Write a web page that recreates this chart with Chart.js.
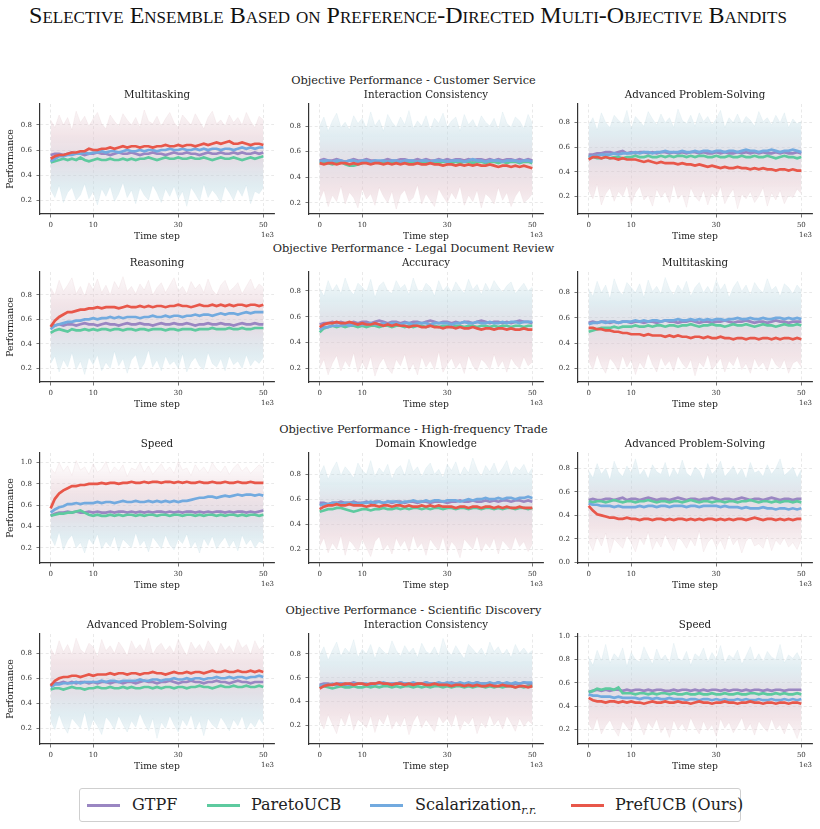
<!DOCTYPE html>
<html><head><meta charset="utf-8">
<script src="https://cdn.jsdelivr.net/npm/chart.js@4.4.1/dist/chart.umd.min.js"></script>
<style>
html,body{margin:0;padding:0;background:#fff;}
body{width:820px;height:829px;position:relative;overflow:hidden;font-family:'DejaVu Serif',serif;}
#title{position:absolute;left:0;top:2px;width:816px;text-align:center;font-family:'Liberation Serif','Times New Roman',serif;font-variant:small-caps;font-size:24px;line-height:26px;color:#111;white-space:nowrap;}
.rowhead{position:absolute;left:0;width:827px;text-align:center;font-size:11.3px;line-height:14px;color:#222;white-space:nowrap;}
canvas{position:absolute;}
#legend{position:absolute;left:79px;top:788px;width:662px;height:34px;box-sizing:border-box;border:1px solid #cfcfcf;border-radius:3px;background:#fff;}
#legend .ln{position:absolute;top:15px;width:33px;height:2.5px;}
#legend .tx{position:absolute;top:6px;font-size:16px;line-height:20px;color:#222;white-space:nowrap;}
#legend .sub{font-style:italic;font-size:11px;position:relative;top:4px;}
</style></head>
<body>
<div id="title"></div>
<div id="legend"></div>
<script>
// ---------------- data ----------------
const figureTitle = 'Selective Ensemble Based on Preference-Directed Multi-Objective Bandits';
const rowTitles = ['Objective Performance - Customer Service','Objective Performance - Legal Document Review','Objective Performance - High-frequency Trade','Objective Performance - Scientific Discovery'];
const panelTitles = ['Multitasking','Interaction Consistency','Advanced Problem-Solving','Reasoning','Accuracy','Multitasking','Speed','Domain Knowledge','Advanced Problem-Solving','Advanced Problem-Solving','Interaction Consistency','Speed'];
const seriesNames = ['GTPF','ParetoUCB','Scalarization','PrefUCB (Ours)'];
const xTicks = [0,10,30,50];          // time step, x 1e3
const yTicks = [[.2,.4,.6,.8],[.2,.4,.6,.8],[.2,.4,.6,.8],[.2,.4,.6,.8],[.2,.4,.6,.8],[.2,.4,.6,.8],[.2,.4,.6,.8,1.0],[.2,.4,.6,.8],[0,.2,.4,.6,.8],[.2,.4,.6,.8],[.2,.4,.6,.8],[.2,.4,.6,.8,1.0]];
const yMin = [0.088,0.112,0.056,0.088,0.094,0.091,0.056,0.088,-0.005,0.074,0.043,0.073];
const yMax = [0.968,0.972,0.952,0.988,0.947,0.964,1.091,0.971,0.930,0.954,0.968,1.020];

const gtpf = [
[.56,.57,.57,.56,.57,.58,.57,.57,.56,.57,.57,.58,.57,.57,.56,.57,.58,.57,.57,.58,.57,.56,.57,.57,.58,.57,.57,.56,.57,.58,.57,.57,.58,.57,.57,.56,.57,.58,.57,.57,.58,.57,.57,.58,.57,.58,.57,.57,.58,.57,.58],
[.53,.54,.53,.53,.54,.53,.52,.53,.54,.53,.53,.54,.53,.53,.52,.53,.54,.53,.53,.54,.54,.53,.53,.54,.53,.54,.53,.53,.54,.53,.54,.53,.54,.54,.53,.54,.53,.54,.54,.53,.54,.53,.54,.53,.54,.54,.53,.54,.53,.54,.53],
[.54,.54,.55,.55,.56,.56,.55,.56,.57,.55,.56,.55,.56,.56,.55,.56,.55,.56,.56,.55,.56,.55,.56,.55,.56,.56,.55,.56,.55,.55,.56,.55,.56,.55,.55,.56,.55,.56,.55,.56,.55,.56,.55,.55,.56,.55,.56,.55,.55,.56,.55],
[.55,.55,.56,.55,.56,.56,.55,.56,.57,.56,.56,.55,.56,.57,.56,.56,.55,.56,.57,.56,.56,.57,.56,.56,.55,.56,.57,.56,.56,.57,.56,.56,.57,.56,.55,.56,.56,.57,.56,.56,.57,.56,.56,.55,.56,.57,.56,.56,.57,.56,.56],
[.54,.55,.55,.56,.55,.56,.55,.55,.56,.55,.56,.56,.55,.56,.57,.56,.55,.56,.56,.55,.56,.55,.56,.56,.55,.56,.57,.56,.55,.56,.56,.55,.56,.55,.56,.56,.55,.56,.57,.56,.55,.56,.56,.55,.56,.55,.56,.57,.56,.56,.55],
[.56,.57,.56,.57,.57,.56,.57,.56,.57,.57,.56,.57,.57,.56,.57,.57,.56,.57,.58,.57,.57,.56,.57,.57,.58,.57,.56,.57,.57,.56,.57,.57,.58,.57,.56,.57,.57,.58,.57,.56,.57,.57,.56,.57,.58,.57,.57,.56,.57,.57,.57],
[.50,.52,.53,.53,.54,.53,.54,.53,.53,.54,.53,.54,.53,.53,.54,.53,.54,.54,.53,.54,.53,.54,.53,.54,.53,.54,.54,.53,.54,.53,.54,.53,.54,.54,.53,.54,.53,.54,.53,.54,.54,.53,.54,.53,.54,.54,.53,.54,.53,.54,.55],
[.57,.57,.56,.57,.57,.58,.57,.57,.58,.57,.57,.58,.57,.58,.58,.57,.58,.57,.58,.58,.57,.58,.58,.57,.58,.58,.57,.58,.58,.58,.57,.58,.58,.59,.58,.58,.59,.58,.58,.59,.58,.59,.58,.59,.59,.58,.59,.59,.58,.59,.58],
[.53,.54,.53,.53,.54,.54,.53,.54,.55,.53,.54,.54,.53,.54,.55,.54,.53,.54,.54,.53,.54,.55,.54,.53,.54,.54,.53,.54,.54,.55,.54,.53,.54,.54,.53,.54,.55,.54,.53,.54,.54,.53,.54,.55,.54,.53,.54,.54,.53,.54,.54],
[.55,.56,.56,.57,.56,.57,.56,.57,.57,.56,.57,.56,.57,.57,.56,.57,.57,.56,.57,.57,.56,.57,.58,.57,.57,.56,.57,.57,.58,.57,.56,.57,.57,.58,.57,.57,.56,.57,.57,.58,.57,.57,.56,.57,.58,.57,.57,.56,.57,.57,.57],
[.54,.55,.55,.54,.55,.55,.54,.55,.56,.55,.55,.54,.55,.55,.56,.55,.54,.55,.55,.56,.55,.55,.54,.55,.55,.56,.55,.55,.54,.55,.55,.56,.55,.55,.54,.55,.55,.56,.55,.55,.54,.55,.56,.55,.55,.54,.55,.55,.56,.55,.55],
[.52,.53,.54,.53,.54,.53,.54,.54,.53,.54,.53,.54,.54,.53,.54,.53,.54,.54,.53,.53,.54,.53,.54,.54,.53,.54,.53,.54,.53,.54,.54,.53,.54,.53,.54,.54,.53,.54,.53,.54,.54,.53,.54,.53,.54,.54,.53,.54,.54,.54,.54]
];
const paretoUCB = [
[.50,.51,.52,.53,.52,.53,.52,.54,.52,.51,.52,.53,.52,.52,.53,.52,.52,.53,.52,.53,.52,.53,.53,.54,.53,.52,.53,.54,.53,.53,.54,.53,.53,.54,.53,.53,.54,.53,.52,.53,.54,.53,.53,.54,.53,.52,.53,.54,.53,.54,.55],
[.51,.52,.51,.50,.51,.52,.50,.49,.49,.50,.51,.52,.51,.52,.51,.52,.52,.51,.52,.51,.52,.52,.51,.52,.52,.51,.52,.52,.51,.52,.52,.51,.52,.51,.52,.52,.51,.52,.52,.51,.52,.52,.51,.52,.51,.52,.52,.51,.52,.52,.51],
[.52,.52,.51,.51,.52,.51,.52,.52,.51,.52,.52,.53,.52,.52,.53,.52,.52,.53,.52,.53,.52,.53,.53,.52,.53,.52,.53,.53,.52,.52,.53,.52,.52,.53,.52,.52,.53,.52,.52,.53,.52,.52,.53,.52,.51,.52,.53,.52,.52,.51,.52],
[.49,.51,.52,.51,.50,.52,.51,.51,.52,.51,.52,.51,.52,.52,.51,.52,.52,.51,.52,.52,.51,.52,.52,.51,.52,.52,.52,.51,.52,.52,.51,.52,.52,.52,.51,.52,.52,.52,.53,.52,.52,.52,.53,.52,.52,.53,.52,.52,.53,.53,.53],
[.48,.51,.52,.53,.52,.53,.52,.53,.53,.52,.53,.52,.53,.53,.52,.53,.53,.52,.53,.53,.52,.53,.52,.53,.53,.52,.53,.53,.52,.53,.53,.52,.53,.53,.52,.53,.53,.52,.53,.53,.52,.53,.52,.53,.53,.52,.53,.53,.52,.53,.53],
[.49,.50,.51,.52,.52,.52,.53,.52,.53,.53,.53,.54,.53,.53,.54,.53,.54,.54,.53,.54,.54,.53,.54,.54,.55,.54,.53,.54,.54,.55,.54,.54,.53,.54,.55,.54,.54,.55,.54,.53,.54,.55,.54,.54,.53,.54,.55,.54,.54,.55,.54],
[.50,.51,.52,.52,.53,.53,.54,.55,.53,.51,.50,.51,.50,.50,.51,.50,.51,.50,.51,.51,.50,.51,.50,.51,.51,.50,.51,.51,.50,.51,.51,.50,.51,.51,.50,.51,.50,.51,.51,.50,.51,.50,.51,.51,.50,.51,.50,.51,.51,.50,.51],
[.50,.51,.52,.52,.53,.53,.52,.51,.50,.51,.52,.52,.51,.52,.52,.53,.52,.52,.53,.52,.53,.52,.53,.53,.52,.53,.52,.53,.53,.52,.53,.53,.52,.53,.53,.52,.53,.53,.52,.53,.53,.52,.53,.52,.53,.53,.52,.53,.53,.52,.53],
[.52,.51,.52,.52,.51,.52,.53,.52,.51,.52,.52,.51,.52,.52,.53,.52,.51,.52,.52,.51,.52,.52,.51,.52,.53,.52,.51,.52,.52,.51,.52,.52,.51,.52,.52,.51,.52,.52,.53,.52,.51,.52,.52,.51,.52,.51,.52,.52,.51,.52,.51],
[.51,.52,.52,.51,.52,.53,.52,.52,.51,.52,.52,.53,.52,.52,.53,.52,.52,.53,.52,.53,.52,.52,.53,.53,.52,.53,.52,.53,.53,.52,.53,.53,.52,.53,.53,.54,.53,.53,.52,.53,.54,.53,.53,.54,.53,.53,.54,.53,.53,.54,.53],
[.52,.53,.52,.51,.52,.53,.52,.52,.53,.52,.52,.53,.52,.53,.52,.53,.53,.52,.53,.52,.53,.53,.52,.53,.52,.53,.52,.53,.53,.52,.53,.52,.53,.53,.52,.53,.52,.53,.53,.52,.53,.52,.53,.52,.53,.53,.52,.53,.52,.53,.53],
[.52,.53,.55,.54,.55,.55,.54,.56,.51,.51,.51,.50,.51,.51,.50,.51,.50,.51,.51,.50,.51,.50,.50,.51,.50,.50,.51,.50,.50,.51,.50,.50,.51,.50,.50,.51,.50,.50,.51,.51,.50,.51,.50,.50,.51,.50,.51,.50,.50,.51,.50]
];
const scalarization = [
[.51,.53,.55,.55,.56,.56,.57,.57,.58,.57,.58,.58,.59,.58,.59,.59,.58,.59,.60,.59,.59,.60,.59,.60,.60,.59,.60,.60,.61,.60,.60,.61,.60,.60,.61,.60,.61,.60,.61,.61,.60,.61,.61,.60,.61,.62,.61,.62,.61,.62,.62],
[.52,.53,.53,.52,.53,.53,.52,.53,.53,.52,.53,.53,.52,.53,.53,.53,.52,.53,.53,.52,.53,.53,.53,.52,.53,.53,.52,.53,.53,.53,.52,.53,.53,.53,.52,.53,.54,.53,.53,.52,.53,.53,.53,.52,.53,.53,.53,.52,.53,.53,.52],
[.52,.53,.53,.54,.54,.54,.55,.54,.55,.55,.55,.56,.55,.56,.56,.55,.56,.56,.57,.56,.56,.56,.57,.56,.56,.57,.56,.57,.57,.56,.57,.57,.56,.57,.57,.56,.57,.58,.57,.57,.56,.57,.57,.58,.57,.56,.57,.57,.58,.57,.56],
[.52,.55,.56,.57,.58,.58,.59,.59,.60,.60,.61,.60,.61,.61,.62,.61,.62,.61,.62,.62,.62,.61,.62,.62,.63,.62,.62,.63,.62,.63,.63,.62,.63,.63,.64,.63,.64,.64,.63,.64,.65,.64,.65,.65,.64,.65,.66,.65,.66,.66,.66],
[.50,.52,.52,.53,.53,.53,.54,.53,.54,.54,.54,.54,.55,.54,.54,.55,.54,.55,.55,.54,.55,.55,.54,.55,.55,.55,.54,.55,.55,.55,.55,.54,.55,.55,.56,.55,.55,.56,.55,.55,.56,.55,.55,.56,.55,.56,.56,.55,.56,.56,.56],
[.55,.56,.56,.57,.56,.57,.57,.56,.57,.57,.57,.58,.57,.58,.57,.58,.58,.57,.58,.58,.58,.59,.58,.58,.59,.58,.59,.58,.59,.58,.59,.59,.58,.59,.59,.60,.59,.59,.60,.59,.59,.60,.59,.59,.60,.60,.59,.60,.59,.60,.59],
[.53,.56,.58,.59,.61,.61,.62,.61,.62,.62,.62,.63,.62,.63,.63,.62,.63,.64,.63,.63,.64,.63,.63,.64,.63,.64,.63,.64,.63,.64,.63,.64,.64,.65,.66,.67,.67,.68,.68,.67,.68,.69,.68,.69,.70,.69,.70,.70,.69,.70,.69],
[.55,.56,.56,.57,.57,.56,.57,.57,.57,.56,.57,.57,.58,.57,.58,.57,.58,.58,.58,.57,.58,.58,.59,.58,.58,.59,.58,.59,.59,.58,.59,.59,.59,.58,.59,.60,.59,.60,.60,.61,.60,.60,.61,.60,.61,.61,.60,.61,.61,.62,.61],
[.50,.49,.49,.48,.48,.48,.47,.48,.47,.47,.47,.47,.48,.47,.48,.48,.47,.48,.48,.47,.48,.48,.48,.47,.48,.48,.47,.48,.48,.48,.48,.47,.48,.47,.47,.47,.46,.47,.46,.46,.46,.47,.46,.46,.45,.46,.46,.45,.46,.45,.46],
[.53,.55,.55,.56,.56,.56,.57,.56,.57,.57,.57,.57,.58,.57,.58,.58,.57,.58,.58,.58,.58,.59,.58,.58,.59,.59,.58,.59,.59,.60,.59,.59,.60,.59,.60,.60,.59,.60,.60,.61,.60,.60,.61,.60,.61,.61,.60,.61,.61,.62,.61],
[.53,.54,.54,.55,.54,.55,.55,.54,.55,.55,.55,.55,.54,.55,.55,.56,.55,.55,.55,.56,.55,.55,.56,.55,.55,.56,.55,.55,.56,.55,.56,.55,.55,.56,.55,.56,.55,.56,.55,.55,.56,.55,.56,.55,.56,.55,.56,.55,.56,.56,.56],
[.50,.49,.49,.48,.48,.48,.47,.48,.47,.47,.47,.47,.46,.47,.47,.46,.47,.46,.46,.47,.46,.46,.46,.45,.46,.46,.45,.46,.46,.45,.46,.45,.46,.45,.45,.46,.45,.46,.45,.45,.46,.45,.45,.46,.45,.45,.46,.45,.46,.45,.46]
];
const prefUCB = [
[.53,.55,.56,.56,.57,.58,.58,.59,.59,.61,.60,.60,.61,.61,.62,.61,.62,.63,.62,.63,.63,.62,.63,.63,.62,.63,.63,.64,.63,.63,.64,.63,.64,.64,.63,.64,.65,.64,.65,.66,.65,.66,.67,.65,.65,.66,.65,.64,.65,.65,.64],
[.51,.50,.51,.51,.50,.51,.51,.50,.51,.50,.51,.51,.50,.51,.51,.50,.51,.50,.51,.50,.51,.50,.50,.51,.50,.50,.51,.50,.50,.49,.50,.50,.49,.50,.49,.50,.49,.50,.49,.49,.50,.49,.48,.49,.49,.48,.49,.48,.49,.48,.47],
[.50,.52,.52,.51,.52,.51,.51,.50,.51,.50,.50,.50,.49,.48,.49,.48,.47,.48,.47,.47,.47,.46,.47,.46,.46,.45,.46,.45,.44,.45,.44,.43,.44,.43,.43,.44,.43,.43,.42,.43,.42,.43,.42,.42,.41,.42,.42,.41,.42,.41,.41],
[.54,.59,.62,.64,.66,.66,.67,.68,.68,.69,.69,.70,.69,.70,.70,.70,.69,.70,.71,.70,.70,.71,.70,.71,.70,.71,.71,.70,.71,.71,.72,.71,.71,.70,.71,.72,.71,.71,.72,.71,.72,.71,.72,.71,.72,.72,.71,.72,.72,.71,.72],
[.52,.54,.55,.55,.56,.55,.55,.56,.55,.54,.55,.54,.54,.55,.54,.53,.54,.53,.54,.53,.53,.52,.53,.53,.52,.52,.53,.52,.52,.51,.52,.52,.51,.52,.51,.51,.52,.51,.50,.51,.51,.50,.51,.51,.50,.51,.50,.50,.51,.50,.50],
[.52,.52,.51,.51,.50,.50,.49,.49,.48,.48,.47,.47,.47,.46,.47,.46,.46,.46,.45,.46,.45,.46,.45,.45,.44,.45,.45,.44,.45,.44,.44,.45,.44,.44,.43,.44,.44,.43,.44,.44,.43,.44,.44,.43,.44,.43,.44,.44,.43,.44,.43],
[.57,.66,.71,.74,.76,.78,.78,.79,.79,.80,.80,.80,.81,.80,.81,.81,.80,.81,.81,.82,.81,.81,.82,.81,.82,.82,.81,.82,.82,.81,.82,.81,.82,.81,.81,.82,.81,.81,.82,.81,.81,.82,.81,.81,.82,.81,.81,.82,.81,.81,.81],
[.52,.54,.55,.55,.56,.55,.55,.56,.55,.55,.55,.54,.55,.55,.54,.55,.55,.54,.55,.55,.54,.55,.54,.54,.55,.54,.55,.54,.55,.54,.54,.54,.53,.54,.54,.53,.54,.54,.53,.54,.54,.53,.54,.53,.54,.53,.53,.54,.53,.53,.53],
[.48,.44,.41,.40,.39,.38,.38,.37,.37,.38,.37,.37,.36,.37,.37,.36,.37,.37,.36,.37,.36,.37,.37,.36,.37,.36,.37,.36,.37,.37,.36,.37,.36,.37,.36,.37,.37,.36,.37,.38,.37,.36,.37,.37,.36,.37,.36,.37,.36,.37,.37],
[.54,.58,.60,.61,.61,.62,.62,.61,.62,.63,.62,.63,.63,.63,.64,.63,.64,.64,.63,.64,.64,.63,.64,.64,.65,.64,.64,.63,.64,.65,.64,.64,.65,.64,.65,.65,.64,.65,.66,.65,.65,.66,.65,.65,.66,.65,.65,.66,.65,.66,.65],
[.51,.53,.54,.54,.55,.54,.55,.55,.54,.55,.55,.54,.55,.55,.56,.55,.55,.54,.55,.55,.54,.55,.54,.55,.55,.54,.54,.55,.54,.54,.54,.53,.54,.54,.53,.54,.53,.54,.53,.53,.54,.53,.53,.54,.53,.53,.52,.53,.53,.52,.53],
[.47,.45,.44,.44,.43,.44,.44,.43,.44,.43,.44,.43,.43,.42,.43,.44,.43,.43,.44,.43,.43,.44,.43,.43,.42,.43,.44,.43,.43,.42,.43,.43,.44,.43,.43,.42,.43,.43,.44,.43,.43,.42,.43,.43,.42,.43,.43,.42,.43,.43,.42]
];
// envelope of the faint per-step traces (upper / lower)
const noiseHi = [
[.84,.78,.88,.80,.86,.76,.91,.82,.87,.79,.85,.90,.81,.77,.88,.83,.79,.89,.84,.80,.86,.78,.92,.83,.81,.87,.79,.85,.90,.82,.78,.88,.84,.80,.89,.83,.77,.86,.91,.81,.84,.79,.88,.82,.86,.80,.90,.83,.78,.87,.84],
[.80,.87,.76,.84,.90,.79,.83,.77,.88,.82,.86,.78,.91,.80,.85,.76,.89,.83,.79,.87,.81,.92,.78,.84,.80,.88,.77,.86,.82,.90,.79,.84,.87,.76,.89,.81,.85,.78,.88,.83,.80,.86,.77,.91,.82,.79,.87,.84,.78,.89,.82],
[.78,.84,.74,.88,.80,.76,.86,.82,.79,.90,.75,.85,.81,.77,.89,.83,.78,.87,.80,.84,.76,.91,.82,.79,.86,.77,.88,.81,.85,.78,.83,.90,.76,.84,.80,.87,.79,.85,.82,.77,.89,.81,.84,.78,.86,.80,.88,.76,.83,.79,.81],
[.86,.80,.92,.83,.88,.94,.81,.87,.79,.90,.84,.93,.82,.88,.80,.91,.85,.95,.83,.87,.81,.89,.84,.92,.80,.86,.90,.82,.88,.94,.83,.87,.81,.91,.85,.89,.82,.93,.84,.80,.88,.92,.83,.86,.90,.81,.87,.93,.84,.89,.86],
[.82,.76,.88,.80,.85,.78,.90,.81,.77,.86,.83,.79,.89,.75,.84,.87,.80,.78,.88,.82,.85,.77,.90,.81,.79,.86,.83,.76,.88,.80,.84,.79,.87,.82,.78,.89,.81,.85,.77,.86,.80,.88,.83,.79,.84,.87,.78,.82,.86,.80,.83],
[.83,.77,.89,.80,.86,.75,.91,.82,.78,.88,.84,.80,.87,.76,.90,.81,.85,.79,.92,.83,.78,.86,.81,.89,.77,.84,.88,.80,.85,.79,.90,.82,.87,.76,.84,.89,.81,.86,.78,.88,.83,.80,.91,.82,.85,.77,.87,.84,.79,.86,.82],
[.95,.90,1.0,.92,.97,.88,1.02,.93,.96,.89,.99,.91,.94,1.01,.90,.96,.92,.98,.87,.95,.93,1.0,.91,.97,.89,.94,.99,.92,.96,.90,1.01,.93,.95,.88,.98,.92,.96,.90,1.0,.94,.91,.97,.89,.95,.99,.92,.96,.90,.94,.98,.95],
[.80,.87,.76,.84,.90,.79,.86,.82,.77,.89,.83,.80,.91,.78,.85,.81,.88,.76,.84,.87,.79,.92,.82,.86,.78,.85,.89,.80,.84,.77,.88,.83,.90,.79,.86,.81,.93,.84,.78,.87,.82,.89,.80,.85,.91,.79,.86,.83,.88,.80,.85],
[.78,.72,.84,.75,.80,.70,.86,.77,.73,.82,.76,.88,.74,.79,.71,.83,.77,.75,.85,.72,.80,.74,.87,.76,.73,.81,.78,.70,.84,.75,.79,.86,.73,.77,.82,.74,.80,.71,.85,.76,.78,.73,.83,.75,.80,.88,.74,.77,.81,.72,.79],
[.84,.78,.90,.81,.87,.79,.92,.83,.80,.88,.85,.77,.91,.82,.86,.80,.89,.84,.78,.90,.83,.87,.81,.92,.79,.85,.88,.82,.86,.80,.91,.84,.78,.89,.83,.87,.81,.90,.85,.79,.88,.82,.86,.80,.91,.84,.87,.79,.90,.83,.86],
[.79,.86,.75,.83,.90,.78,.85,.81,.92,.77,.84,.80,.88,.76,.86,.82,.79,.91,.83,.78,.87,.81,.85,.77,.89,.82,.80,.86,.78,.93,.83,.79,.87,.81,.76,.88,.84,.80,.85,.78,.90,.82,.86,.79,.84,.77,.88,.81,.85,.80,.83],
[.82,.75,.88,.79,.93,.77,.85,.81,.90,.74,.86,.80,.78,.91,.83,.76,.89,.80,.84,.77,.94,.81,.79,.87,.75,.85,.82,.90,.78,.86,.80,.92,.77,.84,.81,.88,.76,.83,.91,.79,.85,.78,.87,.82,.80,.93,.77,.84,.81,.86,.79]
];
const noiseLo = [
[.28,.22,.32,.18,.26,.30,.20,.24,.33,.21,.27,.16,.29,.23,.31,.19,.25,.34,.22,.28,.17,.30,.24,.20,.32,.26,.18,.29,.23,.31,.21,.27,.15,.30,.25,.19,.33,.22,.28,.24,.18,.31,.26,.20,.29,.23,.32,.17,.27,.25,.30],
[.22,.30,.17,.26,.21,.33,.19,.28,.24,.16,.31,.23,.27,.18,.32,.25,.20,.29,.15,.26,.30,.21,.24,.34,.19,.27,.22,.17,.31,.25,.20,.28,.23,.33,.18,.26,.21,.30,.16,.27,.24,.19,.32,.22,.28,.17,.25,.30,.20,.23,.27],
[.25,.18,.30,.13,.22,.27,.16,.24,.20,.29,.14,.23,.28,.17,.21,.12,.26,.19,.24,.15,.30,.18,.22,.11,.27,.20,.16,.25,.13,.23,.19,.28,.14,.21,.26,.10,.22,.18,.24,.15,.20,.27,.12,.23,.17,.25,.14,.21,.19,.26,.22],
[.24,.30,.17,.27,.21,.33,.19,.26,.15,.29,.23,.31,.18,.25,.20,.34,.22,.28,.16,.27,.31,.19,.24,.35,.21,.27,.18,.30,.23,.26,.20,.32,.17,.25,.29,.22,.19,.33,.24,.21,.28,.18,.30,.23,.26,.20,.31,.22,.27,.24,.29],
[.20,.27,.15,.24,.30,.18,.26,.21,.32,.17,.25,.19,.29,.14,.23,.28,.20,.16,.27,.22,.31,.18,.24,.15,.29,.21,.26,.19,.33,.17,.23,.28,.20,.25,.16,.30,.22,.18,.27,.24,.19,.31,.21,.26,.17,.28,.23,.20,.29,.22,.25],
[.26,.19,.31,.22,.16,.28,.24,.18,.30,.21,.27,.15,.25,.20,.32,.23,.17,.29,.22,.26,.18,.30,.24,.20,.27,.14,.25,.21,.31,.19,.23,.28,.17,.26,.22,.30,.19,.24,.16,.28,.21,.25,.18,.29,.23,.20,.27,.16,.24,.26,.21],
[.30,.22,.35,.18,.27,.32,.20,.25,.15,.29,.23,.33,.19,.26,.21,.31,.17,.28,.24,.20,.34,.22,.27,.16,.30,.25,.19,.32,.23,.18,.28,.24,.33,.20,.26,.15,.29,.22,.31,.19,.25,.30,.21,.27,.17,.32,.23,.28,.20,.26,.24],
[.22,.29,.17,.25,.20,.31,.15,.27,.23,.18,.28,.21,.14,.26,.30,.19,.24,.16,.29,.22,.27,.18,.31,.21,.25,.15,.28,.23,.19,.30,.17,.26,.22,.13,.28,.24,.20,.31,.18,.25,.21,.29,.16,.27,.23,.19,.30,.22,.26,.18,.24],
[.18,.10,.22,.14,.25,.08,.20,.16,.12,.23,.17,.09,.21,.15,.26,.11,.19,.13,.24,.16,.10,.22,.18,.12,.20,.14,.27,.09,.17,.21,.13,.19,.11,.24,.15,.20,.08,.18,.22,.14,.16,.12,.23,.10,.19,.15,.21,.13,.17,.11,.20],
[.26,.19,.31,.22,.16,.28,.24,.20,.33,.18,.27,.22,.15,.29,.25,.19,.30,.23,.17,.26,.21,.32,.24,.18,.28,.12,.25,.20,.30,.23,.17,.27,.22,.31,.19,.26,.14,.28,.23,.20,.29,.24,.18,.27,.22,.30,.19,.25,.21,.28,.23],
[.24,.17,.29,.21,.13,.27,.20,.31,.16,.25,.22,.18,.28,.14,.26,.21,.30,.17,.24,.19,.27,.12,.23,.29,.18,.25,.20,.15,.28,.22,.26,.19,.30,.16,.24,.21,.27,.13,.23,.18,.29,.20,.25,.17,.28,.22,.15,.26,.19,.24,.21],
[.25,.19,.30,.16,.23,.28,.20,.14,.27,.22,.18,.31,.24,.15,.26,.21,.29,.17,.23,.13,.28,.20,.25,.18,.30,.22,.16,.27,.19,.24,.14,.29,.21,.26,.17,.23,.30,.19,.25,.15,.27,.22,.18,.29,.20,.24,.16,.26,.21,.12,.23]
];

// ---------------- styling / layout ----------------
const COL = {gtpf:'#9A86C2', pareto:'#5DCA9F', scal:'#72AADF', pref:'#E8574A'};
const colLeft = [40,309,578], rowTop = [104,272,453,634];
const PW = 234, PH = 110, YW = 40, TH = 16, XH = 30, RP = 8;
const FONT = "'DejaVu Serif', serif";

Chart.defaults.font.family = FONT;
Chart.defaults.animation = false;

document.getElementById('title').textContent = figureTitle;
rowTitles.forEach((t,r)=>{
  const d=document.createElement('div'); d.className='rowhead'; d.textContent=t;
  d.style.top=(rowTop[r]-30)+'px'; document.body.appendChild(d);
});

// legend
(function(){
  const lg=document.getElementById('legend');
  const items=[{c:COL.gtpf,l:7,t:52,h:'GTPF'},{c:COL.pareto,l:127,t:171,h:'ParetoUCB'},{c:COL.scal,l:290,t:335,h:'Scalarization<span class="sub">r.r.</span>'},{c:COL.pref,l:491,t:535,h:'PrefUCB (Ours)'}];
  items.forEach(it=>{
    const ln=document.createElement('div'); ln.className='ln'; ln.style.left=it.l+'px'; ln.style.background=it.c; lg.appendChild(ln);
    const tx=document.createElement('div'); tx.className='tx'; tx.style.left=it.t+'px'; tx.innerHTML=it.h; lg.appendChild(tx);
  });
})();

const mean = a => a.reduce((s,v)=>s+v,0)/a.length;
const pts = a => a.map((v,i)=>({x:i, y:v}));

const offsetText = {id:'offsetText', afterDraw(chart){
  const {ctx, chartArea} = chart;
  ctx.save(); ctx.font = "7px 'DejaVu Serif'"; ctx.fillStyle='#333';
  ctx.textAlign='right'; ctx.textBaseline='middle';
  ctx.fillText('1e3', chartArea.right, chartArea.bottom + 21);
  ctx.restore();
}};

for (let p=0; p<12; p++){
  const r=Math.floor(p/3), c=p%3;
  const W=YW+PW+RP, H=TH+PH+XH;
  const cv=document.createElement('canvas');
  cv.width=W; cv.height=H;
  cv.style.width=W+'px'; cv.style.height=H+'px';
  cv.style.left=(colLeft[c]-YW)+'px'; cv.style.top=(rowTop[r]-TH)+'px';
  document.body.appendChild(cv);

  const redHigh = mean(prefUCB[p]) >= mean(scalarization[p]);
  const pinkC='226,196,204', cyanC='188,216,226';
  const topC = redHigh ? pinkC : cyanC, botC = redHigh ? cyanC : pinkC;
  const haze = (ctx)=>{
    const ch=ctx.chart; if(!ch.chartArea) return 'rgba(205,190,205,0.4)';
    const y=ch.scales.y;
    const g=ch.ctx.createLinearGradient(0, y.getPixelForValue(0.93), 0, y.getPixelForValue(0.1));
    g.addColorStop(0,'rgba('+topC+',0.14)');
    g.addColorStop(0.25,'rgba('+topC+',0.45)');
    g.addColorStop(0.5,'rgba(204,194,208,0.55)');
    g.addColorStop(0.75,'rgba('+botC+',0.45)');
    g.addColorStop(1,'rgba('+botC+',0.14)');
    return g;
  };
  const line = (data,color,order)=>({data:pts(data), borderColor:color, backgroundColor:color, borderWidth:2.7, pointRadius:0, tension:0, fill:false, order});

  new Chart(cv, {
    type:'line',
    data:{datasets:[
      Object.assign(line(prefUCB[p],COL.pref,0),{label:seriesNames[3]}),
      Object.assign(line(scalarization[p],COL.scal,1),{label:seriesNames[2]}),
      Object.assign(line(paretoUCB[p],COL.pareto,2),{label:seriesNames[1]}),
      Object.assign(line(gtpf[p],COL.gtpf,3),{label:seriesNames[0]}),
      {label:'lo', data:pts(noiseLo[p]), borderColor:'rgba('+botC+',0.35)', borderWidth:0.6, pointRadius:0, tension:0, fill:false, order:6},
      {label:'hi', data:pts(noiseHi[p]), borderColor:'rgba('+topC+',0.35)', borderWidth:0.6, pointRadius:0, tension:0, fill:4, backgroundColor:haze, order:5}
    ]},
    options:{
      responsive:false, animation:false, devicePixelRatio:1,
      layout:{padding:{left:0,right:RP,top:0,bottom:0}},
      plugins:{
        legend:{display:false}, tooltip:{enabled:false},
        title:{display:true, text:panelTitles[p], fullSize:false, color:'#222',
          font:{family:FONT, size:10.3, weight:'normal', lineHeight:'12px'}, padding:{top:1.5,bottom:2.5}},
        filler:{propagate:false}
      },
      scales:{
        x:{type:'linear', min:-2.5, max:52.5, bounds:'data',
          afterBuildTicks:s=>{ s.ticks = xTicks.map(v=>({value:v})); },
          afterFit:s=>{ s.height = XH; },
          ticks:{font:{family:FONT,size:7}, color:'#333', padding:3, maxRotation:0, autoSkip:false, callback:v=>String(v)},
          grid:{color:'rgba(0,0,0,0.11)', lineWidth:0.8, tickLength:3.5, tickColor:'#555', tickWidth:0.8, tickBorderDash:[]},
          border:{display:true, color:'#333', width:1.2, dash:[3,2.5]},
          title:{display:true, text:'Time step', color:'#222', font:{family:FONT,size:9.2}, padding:{top:0,bottom:2.2}}
        },
        y:{type:'linear', min:yMin[p], max:yMax[p], bounds:'data',
          afterBuildTicks:s=>{ s.ticks = yTicks[p].map(v=>({value:v})); },
          afterFit:s=>{ s.width = YW; },
          ticks:{font:{family:FONT,size:7}, color:'#333', padding:4.5, autoSkip:false, callback:v=>Number(v).toFixed(1)},
          grid:{color:'rgba(0,0,0,0.11)', lineWidth:0.8, tickLength:3.5, tickColor:'#555', tickWidth:0.8, tickBorderDash:[]},
          border:{display:true, color:'#333', width:1.2, dash:[3,2.5]},
          title:{display:c===0, text:'Performance', color:'#222', font:{family:FONT,size:9.2}, padding:{top:5,bottom:0}}
        }
      }
    },
    plugins:[offsetText]
  });
}
</script>
</body></html>
